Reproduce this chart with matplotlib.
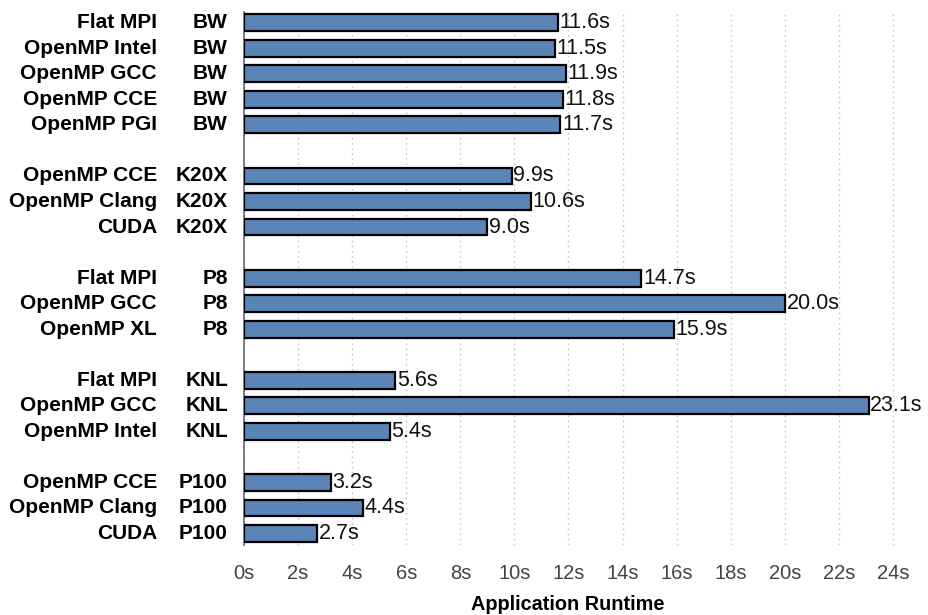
import matplotlib
matplotlib.use("Agg")
import matplotlib.pyplot as plt
import matplotlib.transforms as mtransforms

plt.rcParams['font.family'] = ['Liberation Sans', 'DejaVu Sans']

# Data
platforms = ["BW", "K20X", "P8", "KNL", "P100"]
methods = [
    ["Flat MPI", "OpenMP Intel", "OpenMP GCC", "OpenMP CCE", "OpenMP PGI"],
    ["OpenMP CCE", "OpenMP Clang", "CUDA"],
    ["Flat MPI", "OpenMP GCC", "OpenMP XL"],
    ["Flat MPI", "OpenMP GCC", "OpenMP Intel"],
    ["OpenMP CCE", "OpenMP Clang", "CUDA"],
]
runtimes = [
    [11.6, 11.5, 11.9, 11.8, 11.7],
    [9.9, 10.6, 9.0],
    [14.7, 20.0, 15.9],
    [5.6, 23.1, 5.4],
    [3.2, 4.4, 2.7],
]
xticks = list(range(0, 25, 2))
xtick_labels = [f"{t}s" for t in xticks]

W, H = 929, 615
fig = plt.figure(figsize=(W / 100, H / 100), dpi=100)
ax = fig.add_axes([244 / W, 1 - 545 / H, 676 / W, (545 - 12) / H])

ys, vals, m_labels, p_labels = [], [], [], []
pos = 0
for gi, (plat, meths, rts) in enumerate(zip(platforms, methods, runtimes)):
    for m, r in zip(meths, rts):
        ys.append(pos)
        vals.append(r)
        m_labels.append(m)
        p_labels.append(plat)
        pos += 1
    pos += 1

ax.barh(ys, vals, height=0.66, color="#5b85b6", edgecolor="black",
        linewidth=1.6, zorder=3)

for y, v in zip(ys, vals):
    ax.text(v + 0.06, y, f"{v:.1f}s", va="center", ha="left",
            fontsize=15.5, color="#111111", zorder=4)

trans = mtransforms.blended_transform_factory(fig.transFigure, ax.transData)
for y, m, p in zip(ys, m_labels, p_labels):
    ax.text(157 / W, y, m, transform=trans, ha="right", va="center",
            fontsize=15, fontweight="bold", color="black")
    ax.text(228 / W, y, p, transform=trans, ha="right", va="center",
            fontsize=15, fontweight="bold", color="black")

ax.set_xlim(0, 676 / 27.04)
ax.set_ylim(ys[-1] + 0.45, -0.42)
ax.set_xticks(xticks)
ax.set_xticklabels(xtick_labels, fontsize=14.5, color="#444444")
ax.set_yticks([])
ax.tick_params(axis="x", length=0, pad=14)

ax.grid(axis="x", linestyle=(0, (1.2, 2.5)), color="#c8c8c8", linewidth=1.0, zorder=0)
for s in ["top", "right", "bottom"]:
    ax.spines[s].set_visible(False)
ax.spines["left"].set_color("#666666")
ax.spines["left"].set_linewidth(1.2)

fig.text(568 / W, 1 - 605 / H, "Application Runtime", ha="center", va="center",
         fontsize=14.3, fontweight="bold")

fig.savefig("out.png", dpi=100)
